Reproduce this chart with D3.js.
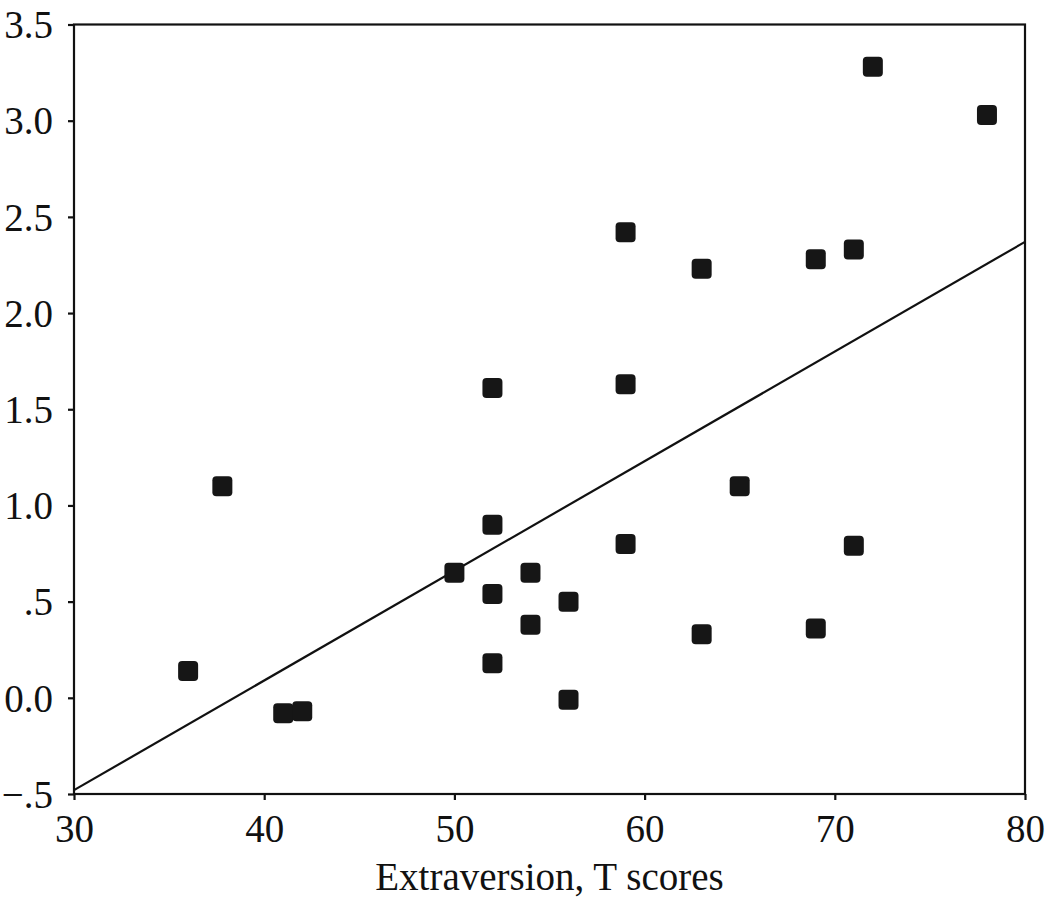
<!DOCTYPE html>
<html>
<head>
<meta charset="utf-8">
<script src="https://cdn.jsdelivr.net/npm/d3@7"></script>
<style>
  body { margin: 0; background: #fff; }
  svg text { font-family: "Liberation Serif", "Times New Roman", serif; fill: #111; }
</style>
</head>
<body>
<svg id="chart"></svg>
<script>
// extraversion T scores
const xValues = [36, 37.8, 41, 42, 50, 52, 52, 52, 52, 54, 54, 56, 56,
                 59, 59, 59, 63, 63, 65, 69, 69, 71, 71, 72, 78];
const yValues = [0.14, 1.10, -0.08, -0.07, 0.65, 1.61, 0.90, 0.54, 0.18, 0.65, 0.38, 0.50, -0.01,
                 2.42, 1.63, 0.80, 2.23, 0.33, 1.10, 2.28, 0.36, 2.33, 0.79, 3.28, 3.03];

// fitted line endpoints
const fitX = [30, 80];
const fitY = [-0.48, 2.37];

const xTicks = [30, 40, 50, 60, 70, 80];
const yTicks = [3.5, 3.0, 2.5, 2.0, 1.5, 1.0, 0.5, 0.0, -0.5];
const yTickLabels = ['3.5', '3.0', '2.5', '2.0', '1.5', '1.0', '.5', '0.0', '\u2212.5'];
const xLabel = 'Extraversion, T scores';

const width = 1050, height = 905;
const margin = {top: 24.5, right: 25, bottom: 111, left: 74};
const chartWidth = width - margin.left - margin.right;
const chartHeight = height - margin.top - margin.bottom;

const svg = d3.select('#chart').attr('width', width).attr('height', height);
const chart = svg.append('g')
  .attr('transform', `translate(${margin.left}, ${margin.top})`);

const x = d3.scaleLinear().domain([30, 80]).range([0, chartWidth]);
const y = d3.scaleLinear().domain([-0.5, 3.5]).range([chartHeight, 0]);

// frame
chart.append('rect')
  .attr('width', chartWidth).attr('height', chartHeight)
  .attr('fill', 'none').attr('stroke', '#111').attr('stroke-width', 2.2);

const xAxis = chart.append('g')
  .attr('transform', `translate(0, ${chartHeight})`)
  .call(d3.axisBottom(x).tickValues(xTicks).tickSize(6).tickPadding(14).tickFormat(d3.format('d')));
const yAxis = chart.append('g')
  .call(d3.axisLeft(y).tickValues(yTicks).tickSize(6).tickPadding(15)
    .tickFormat((d, i) => yTickLabels[i]));

for (const ax of [xAxis, yAxis]) {
  ax.select('.domain').remove();
  ax.selectAll('.tick line').attr('stroke', '#111').attr('stroke-width', 2.2);
  ax.selectAll('.tick text').style('font-size', '39px').attr('fill', '#111');
}
yAxis.selectAll('.tick text').attr('dy', '0.34em');

// regression line
chart.append('path')
  .attr('d', d3.line()(fitX.map((v, i) => [x(v), y(fitY[i])])))
  .attr('fill', 'none').attr('stroke', '#111').attr('stroke-width', 2.2);

// points
const size = 20;
chart.append('g').selectAll('rect')
  .data(d3.range(xValues.length)).enter()
  .append('rect')
  .attr('x', i => x(xValues[i]) - size / 2)
  .attr('y', i => y(yValues[i]) - size / 2)
  .attr('width', size).attr('height', size)
  .attr('rx', 4).attr('ry', 4)
  .attr('fill', '#161616');

// axis title
svg.append('text')
  .attr('x', margin.left + chartWidth / 2)
  .attr('y', 890)
  .style('text-anchor', 'middle')
  .style('font-size', '39px')
  .text(xLabel);
</script>
</body>
</html>
